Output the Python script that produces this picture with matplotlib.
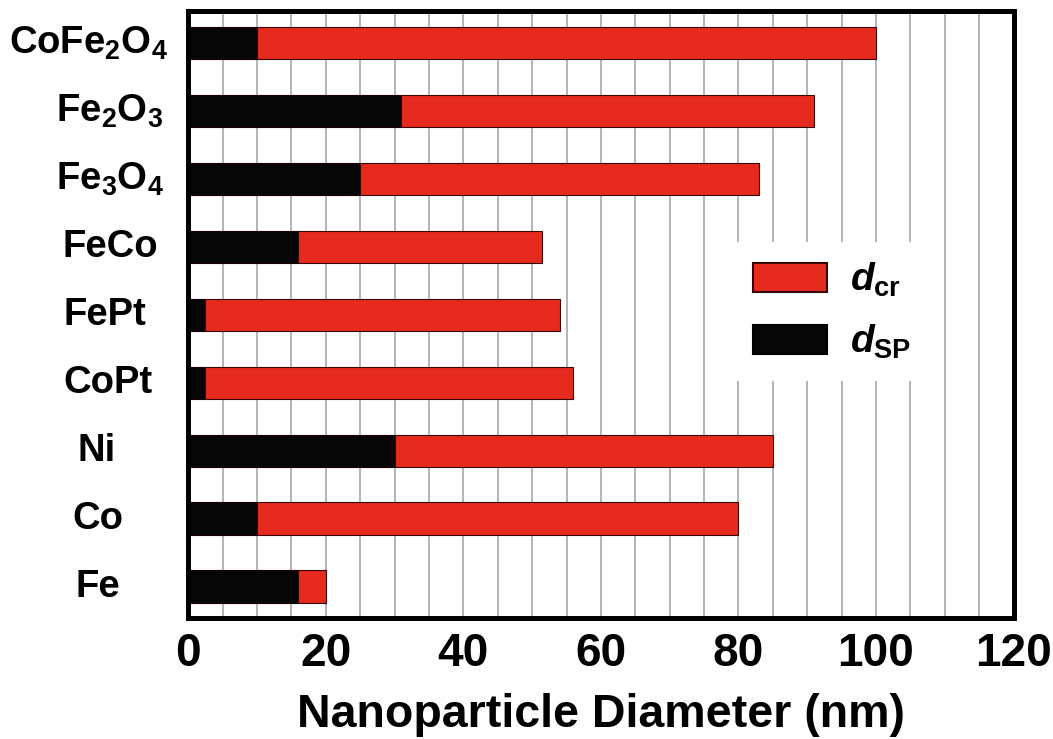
import matplotlib.pyplot as plt
from matplotlib.patches import Patch
from matplotlib.transforms import blended_transform_factory
from matplotlib.ticker import MultipleLocator

plt.rcParams['font.family'] = ['Liberation Sans', 'DejaVu Sans']
plt.rcParams['font.weight'] = 'bold'
plt.rcParams['mathtext.fontset'] = 'custom'
plt.rcParams['mathtext.default'] = 'regular'
plt.rcParams['mathtext.it'] = 'Liberation Sans:bold:italic'

materials = ['Fe', 'Co', 'Ni', 'CoPt', 'FePt', 'FeCo',
             'Fe$_3$O$_4$', 'Fe$_2$O$_3$', 'CoFe$_2$O$_4$']
d_sp = [16, 10, 30, 2.5, 2.5, 16, 25, 31, 10]
d_cr = [20, 80, 85, 56, 54, 51.5, 83, 91, 100]

red = '#e62a1e'
black = '#060606'

fig = plt.figure(figsize=(10.53, 7.39), dpi=100)
ax = fig.add_axes([0.1788, 0.1637, 0.7837, 0.8213])

ypos = list(range(len(materials)))
widths = [c - s for c, s in zip(d_cr, d_sp)]
ax.barh(ypos, d_sp, height=0.48, color=black, edgecolor='#1a0000', linewidth=0.8, zorder=3)
ax.barh(ypos, widths, left=d_sp, height=0.48, color=red, edgecolor='#3a0804', linewidth=0.8, zorder=3)

ax.set_xlim(0, 120)
ax.set_ylim(-0.46, 8.47)
ax.xaxis.set_major_locator(MultipleLocator(20))
ax.xaxis.set_minor_locator(MultipleLocator(5))
ax.grid(axis='x', which='both', color='#a0a0a0', linewidth=1.1, zorder=0)
ax.tick_params(axis='x', which='both', length=0, pad=10, labelsize=33)
ax.set_yticks([])

for sp in ax.spines.values():
    sp.set_linewidth(3.6)
    sp.set_color('black')
    sp.set_zorder(5)

# material names, hand centred to the left of the axis
label_x = [-0.1095, -0.1095, -0.1107, -0.0973, -0.101, -0.0949, -0.0949, -0.0949, -0.1216]
trans = blended_transform_factory(ax.transAxes, ax.transData)
for y, name, lx in zip(ypos, materials, label_x):
    ax.text(lx, y, name, transform=trans, ha='center', va='center',
            fontsize=27.5, fontweight='bold')

ax.set_xlabel('Nanoparticle Diameter (nm)', fontsize=33.5, fontweight='bold', labelpad=12)

handles = [Patch(facecolor=red, edgecolor='#3a0804', linewidth=1.5),
           Patch(facecolor=black, edgecolor='black', linewidth=1.5)]
leg = ax.legend(handles, [r'$\mathit{d}_{cr}$', r'$\mathit{d}_{SP}$'],
                loc='upper left', bbox_to_anchor=(0.637, 0.652),
                prop={'weight': 'bold', 'size': 28},
                handlelength=1.9, handleheight=0.78, handletextpad=0.6,
                labelspacing=0.6, borderpad=0.5,
                frameon=True, facecolor='white', edgecolor='none', framealpha=1,
                fancybox=False)
leg.set_zorder(4)

fig.savefig('out.png', dpi=100)
